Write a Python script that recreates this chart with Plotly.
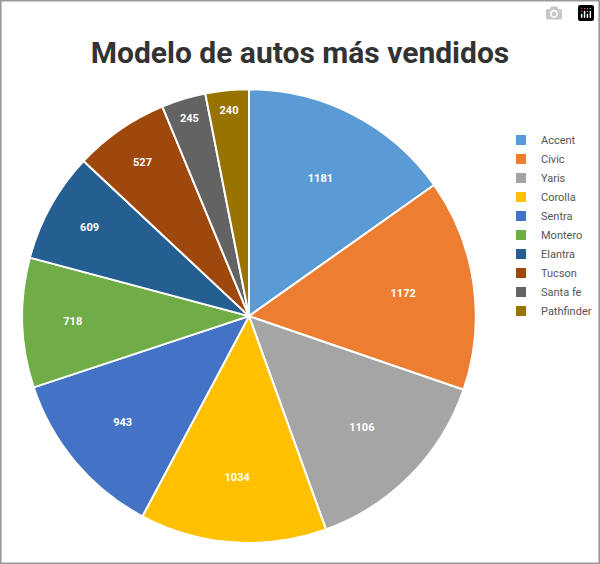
import plotly.graph_objects as go

models = ["Accent", "Civic", "Yaris", "Corolla", "Sentra", "Montero",
          "Elantra", "Tucson", "Santa fe", "Pathfinder"]
sales = [1181, 1172, 1106, 1034, 943, 718, 609, 527, 245, 240]
colors = ["#5B9BD5", "#ED7D31", "#A5A5A5", "#FFC000", "#4472C4", "#70AD47",
          "#255E91", "#9E480E", "#636363", "#997300"]

fig = go.Figure(
    go.Pie(
        labels=models,
        values=sales,
        sort=False,
        direction="clockwise",
        rotation=0,
        marker=dict(colors=colors, line=dict(color="white", width=2)),
        texttemplate="<b>%{value}</b>",
        textposition="inside",
        insidetextorientation="horizontal",
        textfont=dict(family="Roboto", size=11, color="white"),
        domain=dict(x=[0.037, 0.793], y=[0.037, 0.842]),
        hoverinfo="label+value",
    )
)
fig.update_layout(
    width=600,
    height=564,
    margin=dict(l=0, r=0, t=0, b=0),
    paper_bgcolor="white",
    title=dict(
        text="<b>Modelo de autos más vendidos</b>",
        x=0.5, y=0.925, xanchor="center",
        font=dict(family="Roboto", size=30, color="#333333"),
    ),
    legend=dict(
        x=0.835, y=0.6, yanchor="middle",
        font=dict(family="Roboto", size=11, color="#555555"),
        itemwidth=30, tracegroupgap=0,
    ),
    shapes=[dict(type="rect", xref="paper", yref="paper", x0=0.001, y0=0.001,
                 x1=0.999, y1=0.999, line=dict(color="#999999", width=2))],
)
fig.write_html(
    "out.html",
    post_script="document.body.style.margin='0';document.body.style.overflow='hidden';",
)
